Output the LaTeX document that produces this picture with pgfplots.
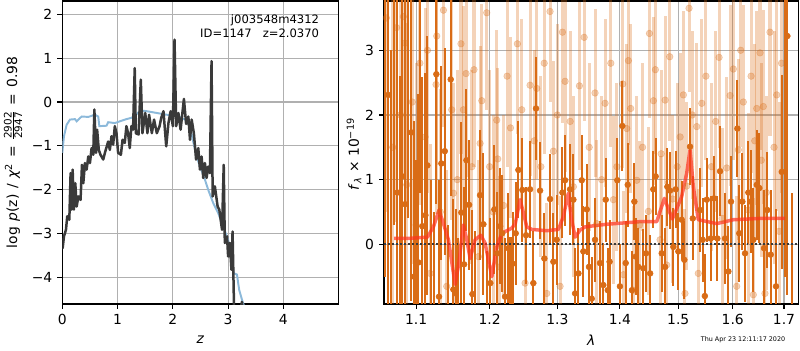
\documentclass[border=0pt]{standalone}
\usepackage{fontspec}
\setmainfont{DejaVu Sans}
\usepackage{pgfplots}
\pgfplotsset{compat=1.18}
\definecolor{dorange}{RGB}{217,108,22}
\definecolor{pzgray}{RGB}{58,58,58}
\definecolor{pzblue}{RGB}{140,185,218}
\definecolor{modred}{RGB}{255,50,30}
\definecolor{gridgray}{RGB}{176,176,176}
\pgfplotsset{
  common/.style={
    scale only axis, anchor=south west,
    tick align=outside, major tick length=3.5pt, tick pos=left,
    grid=major, grid style={line width=0.8pt, color=gridgray},
    axis line style={line width=0.8pt},
    every tick/.style={black, line width=0.8pt},
    ticklabel style={inner sep=0pt, font=\fontsize{10}{12}\selectfont},
    xticklabel style={anchor=north, yshift=-3.5pt},
    yticklabel style={anchor=east, xshift=-3.5pt},
    label style={font=\fontsize{10}{12}\selectfont, inner sep=0pt},
  }
}
\begin{document}
\begin{tikzpicture}
\useasboundingbox (0,0) rectangle (576pt,252pt);
\begin{axis}[common,
  at={(44.86pt,33.12pt)}, width=199.0pt, height=218.16pt,
  xmin=0, xmax=5, ymin=-4.6, ymax=2.3,
  xtick={0,1,2,3,4}, xticklabels={0,1,2,3,4},
  ytick={-4,-3,-2,-1,0,1,2}, yticklabels={−4,−3,−2,−1,0,1,2},
  xlabel={\textit{z}},
  xlabel style={at={(axis description cs:0.5,-0.119)}, anchor=center},
  ylabel={log\hspace{4pt}\textit{p}(z)\hspace{4pt}/\hspace{4pt}\textit{χ}\textsuperscript{2}\hspace{4pt}=\hspace{4pt}$\frac{\mbox{\fontsize{7.5}{7.5}\selectfont 2902}}{\mbox{\fontsize{7.5}{7.5}\selectfont 2947}}$\hspace{4pt}=\hspace{4pt}0.98},
  ylabel style={at={(axis description cs:-0.178,0.5)}, anchor=center},
]
\addplot[pzblue, line width=1.4pt] table[x=z, y=p] {
z p
0.00 -1.16
0.03 -0.78
0.078 -0.52
0.139 -0.40
0.229 -0.39
0.26 -0.44
0.35 -0.33
0.47 -0.34
0.59 -0.29
0.65 -0.33
0.67 -0.55
0.80 -0.54
0.83 -0.46
0.95 -0.48
1.04 -0.44
1.16 -0.39
1.25 -0.36
1.32 -0.31
1.41 -0.19
1.53 -0.21
1.71 -0.25
1.89 -0.29
2.07 -0.31
2.22 -0.40
2.31 -0.55
2.36 -0.86
2.43 -1.24
2.49 -1.47
2.56 -1.69
2.64 -2.00
2.73 -2.30
2.82 -2.53
2.91 -2.83
3.00 -3.14
3.06 -3.55
3.10 -3.90
3.16 -3.93
3.20 -4.28
3.25 -4.50
3.30 -4.70
};
\addplot[pzgray, line width=1.8pt, line join=round] table[x=z, y=p] {
z p
0.000 -3.30
0.006 -3.33
0.030 -3.06
0.066 -2.91
0.090 -2.60
0.127 -2.68
0.150 -1.62
0.170 -2.45
0.187 -1.54
0.210 -2.45
0.235 -1.85
0.260 -2.38
0.290 -2.15
0.330 -2.23
0.356 -1.43
0.380 -1.85
0.410 -1.39
0.440 -1.54
0.470 -1.24
0.500 -1.39
0.530 -1.05
0.560 -1.20
0.580 -0.17
0.610 -1.16
0.630 -0.63
0.660 -1.09
0.690 -1.20
0.740 -1.31
0.770 -1.16
0.830 -0.90
0.860 -1.09
0.890 -0.78
0.920 -0.97
0.950 -0.55
0.980 -0.71
1.010 -1.16
1.060 -1.20
1.090 -0.86
1.130 -0.93
1.160 -0.55
1.190 -0.71
1.220 -1.05
1.250 -0.55
1.280 -0.63
1.310 0.77
1.330 -0.71
1.380 -0.74
1.420 0.51
1.450 -0.71
1.500 -0.25
1.540 -0.71
1.570 -0.29
1.620 -0.71
1.660 -0.40
1.710 -0.71
1.760 -0.55
1.790 -0.36
1.830 -0.21
1.880 -1.01
1.920 -0.48
1.960 -0.21
2.000 -0.55
2.030 1.42
2.060 -0.55
2.100 -0.25
2.140 -0.63
2.200 0.07
2.240 -0.50
2.280 -0.33
2.310 -0.86
2.340 -0.40
2.380 -0.71
2.420 -1.31
2.460 -1.05
2.490 -1.54
2.520 -1.24
2.550 -1.73
2.580 -1.39
2.610 -1.73
2.640 -1.47
2.670 -1.62
2.700 0.93
2.720 -2.15
2.760 -1.92
2.810 -2.38
2.840 -2.45
2.890 -2.91
2.920 -1.43
2.940 -3.21
2.980 -3.06
3.000 -3.52
3.030 -3.21
3.060 -3.82
3.080 -2.95
3.110 -4.90
3.200 -4.90
3.250 -4.55
3.270 -4.80
};
\node[anchor=north east, align=right, inner sep=0pt, font=\fontsize{8.33}{10.3}\selectfont]
  at (rel axis cs:0.93,0.957) {j003548m4312\\ID=1147\hspace{8pt}z=2.0370};
\end{axis}

\begin{axis}[common,
  at={(276.5pt,33.12pt)}, width=298.3pt, height=218.16pt,
  xmode=log, xmin=1.0591, xmax=1.729, ymin=-0.923, ymax=3.762,
  xtick={1.1,1.2,1.3,1.4,1.5,1.6,1.7}, xticklabels={1.1,1.2,1.3,1.4,1.5,1.6,1.7},
  minor xtick={},
  ytick={0,1,2,3}, yticklabels={0,1,2,3},
  xlabel={\textit{λ}},
  xlabel style={at={(axis description cs:0.5,-0.119)}, anchor=center},
  ylabel={\textit{f}$_{\mbox{\fontsize{7}{7}\selectfont\textit{λ}}}$ × 10$^{\mbox{\fontsize{7}{7}\selectfont −19}}$},
  ylabel style={at={(axis description cs:-0.0724,0.495)}, anchor=center},
]
% light (low weight) spectrum points
\addplot[only marks, mark=*, mark size=2.4pt, color=dorange,
  mark options={fill=dorange, draw=none, opacity=0.3},
  error bars/.cd, y dir=both, y explicit, error mark=none,
  error bar style={line width=2.2pt, opacity=0.3, color=dorange}]
  table[x=x, y=y, y error=e] {
x y e
1.0620 3.50 3.0
1.0700 1.50 3.0
1.0750 3.35 3.0
1.0800 2.00 3.0
1.0836 3.52 2.5
1.0858 3.11 2.5
1.0879 0.92 2.5
1.0950 2.20 2.5
1.1000 0.30 2.5
1.1050 2.80 2.2
1.1118 1.66 2.0
1.1150 3.00 2.2
1.1184 -0.45 2.0
1.1263 2.47 2.0
1.1272 3.22 2.0
1.1320 0.50 1.9
1.1362 3.62 1.8
1.1406 -0.65 1.8
1.1474 2.08 1.7
1.1497 0.79 1.7
1.1550 1.00 1.7
1.1600 3.10 1.7
1.1633 2.08 1.6
1.1670 2.64 1.6
1.1750 1.20 1.5
1.1780 2.70 1.5
1.1842 -0.19 1.5
1.1866 1.56 1.5
1.1889 2.22 1.5
1.1959 3.58 1.5
1.2000 1.20 1.5
1.2050 0.50 1.5
1.2101 1.92 1.4
1.2116 1.32 1.4
1.2140 -0.35 1.4
1.2200 0.60 1.4
1.2250 2.60 1.4
1.2300 1.80 1.4
1.2400 3.10 1.4
1.2465 2.08 1.4
1.2514 -0.60 1.4
1.2588 2.46 1.4
1.2650 1.60 1.4
1.2688 2.41 1.4
1.2750 1.20 1.4
1.2800 2.80 1.4
1.2839 -0.76 1.4
1.2889 3.60 1.4
1.2940 1.44 1.4
1.3000 2.00 1.4
1.3043 -0.65 1.4
1.3079 3.28 1.4
1.3120 2.52 1.4
1.3200 1.90 1.4
1.3250 0.89 1.4
1.3345 2.45 1.3
1.3420 3.20 1.3
1.3500 1.50 1.3
1.3594 2.34 1.3
1.3620 0.32 1.3
1.3700 1.00 1.3
1.3756 2.18 1.3
1.3850 2.80 1.3
1.3892 0.69 1.3
1.3950 1.20 1.3
1.4047 2.48 1.3
1.4058 -0.47 1.3
1.4113 1.79 1.3
1.4141 2.84 1.3
1.4180 2.10 1.3
1.4225 -0.71 1.3
1.4282 0.99 1.3
1.4330 0.30 1.3
1.4380 1.50 1.3
1.4480 0.51 1.3
1.4497 3.26 1.3
1.4565 2.22 1.3
1.4600 2.70 1.3
1.4681 0.07 1.3
1.4700 1.40 1.3
1.4768 2.23 1.3
1.4797 -0.32 1.3
1.4850 2.90 1.3
1.4900 0.70 1.3
1.4980 1.20 1.3
1.5033 1.66 1.3
1.5092 2.31 1.3
1.5120 -0.76 1.3
1.5150 0.90 1.3
1.5193 3.65 1.3
1.5250 2.00 1.3
1.5332 1.82 1.3
1.5360 -0.45 1.3
1.5423 2.18 1.3
1.5500 2.60 1.3
1.5600 1.20 1.3
1.5680 1.90 1.4
1.5742 2.89 1.4
1.5800 0.40 1.4
1.5885 1.18 1.4
1.5950 2.30 1.4
1.6011 2.71 1.4
1.6075 -0.65 1.4
1.6106 1.46 1.4
1.6150 3.00 1.5
1.6200 2.20 1.5
1.6298 0.53 1.5
1.6350 2.60 1.5
1.6394 -0.78 1.5
1.6420 1.60 1.5
1.6459 2.10 1.5
1.6524 2.96 1.5
1.6550 1.30 1.5
1.6589 2.13 1.5
1.6620 -0.76 1.5
1.6650 0.80 1.5
1.6721 3.28 1.6
1.6800 1.50 1.8
1.6854 2.31 1.8
1.6900 0.20 2.0
1.6950 2.80 2.0
};
% dark (high weight) spectrum points
\addplot[only marks, mark=*, mark size=2.1pt, color=dorange,
  mark options={fill=dorange, draw=none},
  error bars/.cd, y dir=both, y explicit, error mark=none,
  error bar style={line width=1.5pt, color=dorange}]
  table[x=x, y=y, y error=e] {
x y e
1.0600 4.50 5.00
1.0645 2.31 3.50
1.0680 -1.20 4.20
1.0720 4.30 4.00
1.0760 0.80 3.60
1.0790 -1.40 4.00
1.0823 1.05 2.80
1.0858 0.62 3.20
1.0895 4.20 3.80
1.0939 1.73 2.60
1.0974 -0.50 2.40
1.1000 -1.50 2.80
1.1030 -0.28 2.60
1.1055 4.00 3.20
1.1082 0.28 2.30
1.1122 0.45 2.20
1.1148 1.22 2.00
1.1190 -1.30 2.30
1.1230 -1.10 1.60
1.1267 2.63 2.00
1.1303 -0.81 1.80
1.1334 1.25 1.50
1.1380 1.44 1.60
1.1420 -1.20 1.50
1.1460 2.55 1.80
1.1496 -0.70 1.40
1.1529 -0.76 1.30
1.1565 -1.10 1.20
1.1606 0.49 1.40
1.1643 -0.31 1.20
1.1675 1.30 1.10
1.1712 0.61 1.00
1.1758 -0.77 1.30
1.1800 -1.00 1.20
1.1865 0.76 1.00
1.1912 0.31 1.10
1.1960 -1.10 1.00
1.2010 -0.60 1.00
1.2067 0.54 1.00
1.2110 -0.14 0.95
1.2150 0.28 0.90
1.2180 0.17 0.90
1.2221 -0.81 0.90
1.2269 -0.06 0.85
1.2300 -0.79 0.90
1.2330 -0.30 0.80
1.2376 0.17 0.80
1.2415 1.15 0.75
1.2474 0.84 0.80
1.2529 0.14 0.75
1.2588 0.85 0.75
1.2637 -0.60 0.80
1.2677 2.10 0.80
1.2738 0.83 0.75
1.2803 -0.22 0.70
1.2889 0.70 0.70
1.2940 -0.27 0.75
1.2990 0.07 0.70
1.3079 0.80 0.70
1.3120 0.99 0.70
1.3198 0.85 0.70
1.3250 0.69 0.70
1.3277 -0.76 0.70
1.3329 -0.45 0.70
1.3382 0.99 0.70
1.3407 -0.11 0.70
1.3461 0.54 0.70
1.3497 -0.35 0.70
1.3541 -0.84 0.65
1.3594 0.07 0.65
1.3674 -0.29 0.65
1.3728 -0.63 0.65
1.3767 0.69 0.65
1.3800 -0.71 0.65
1.3830 -0.27 0.65
1.3957 0.99 0.65
1.4000 -0.65 0.65
1.4041 1.83 0.70
1.4096 -0.29 0.65
1.4130 0.92 0.65
1.4200 -0.71 0.60
1.4241 0.66 0.60
1.4265 -0.19 0.60
1.4309 -0.35 0.60
1.4394 -0.37 0.60
1.4440 -0.14 0.60
1.4510 -0.45 0.60
1.4564 0.85 0.60
1.4605 1.05 0.60
1.4710 -0.14 0.60
1.4768 -0.35 0.60
1.4808 0.89 0.60
1.4855 0.83 0.60
1.4913 -0.04 0.60
1.4955 0.85 0.60
1.5002 -0.11 0.60
1.5062 0.38 0.60
1.5109 -0.24 0.60
1.5211 1.51 0.60
1.5260 0.40 0.65
1.5393 0.53 0.65
1.5440 0.07 0.65
1.5480 -0.80 0.65
1.5515 0.69 0.65
1.5588 0.09 0.65
1.5649 0.71 0.65
1.5710 0.09 0.65
1.5761 1.13 0.70
1.5854 0.09 0.70
1.5916 -0.42 0.70
1.5967 0.66 0.70
1.6087 1.79 0.75
1.6124 0.17 0.75
1.6182 0.66 0.75
1.6234 -0.14 0.75
1.6297 0.80 0.80
1.6343 0.66 0.80
1.6394 0.07 0.80
1.6460 0.92 0.85
1.6511 0.87 0.85
1.6602 -0.06 0.90
1.6667 0.53 0.90
1.6735 -0.16 1.00
1.6839 -0.65 1.20
1.6954 1.12 1.50
1.7010 4.50 5.00
1.7067 3.22 4.00
1.7156 -1.20 2.00
};
\addplot[pzgray, line width=1.4pt, dash pattern=on 1.4pt off 1.5pt] coordinates {(1.0591,0) (1.729,0)};
\addplot[modred, opacity=0.7, line width=2.5pt, line join=round] table[x=x, y=y] {
x y
1.0717 0.09
1.0900 0.09
1.1009 0.10
1.1148 0.11
1.1228 0.27
1.1303 0.53
1.1362 0.32
1.1429 0.07
1.1520 -0.62
1.1570 -0.30
1.1633 0.30
1.1680 0.07
1.1726 -0.22
1.1795 0.07
1.1875 0.14
1.1935 0.02
1.2031 -0.50
1.2101 -0.04
1.2174 0.17
1.2319 0.25
1.2370 0.32
1.2440 0.69
1.2479 0.53
1.2539 0.27
1.2614 0.23
1.2839 0.21
1.3017 0.23
1.3094 0.43
1.3171 0.79
1.3214 0.43
1.3277 0.11
1.3355 0.22
1.3434 0.27
1.3783 0.31
1.4058 0.33
1.4337 0.35
1.4623 0.35
1.4756 0.71
1.4896 0.39
1.5062 0.74
1.5151 1.10
1.5211 1.46
1.5270 0.89
1.5360 0.38
1.5700 0.32
1.6010 0.38
1.6524 0.40
1.7020 0.40
};
\end{axis}
\node[font=\fontsize{4.6}{5}\selectfont, anchor=center, inner sep=0pt] at (535pt,7.2pt) {Thu Apr 23 12:11:17 2020};
\end{tikzpicture}
\end{document}
